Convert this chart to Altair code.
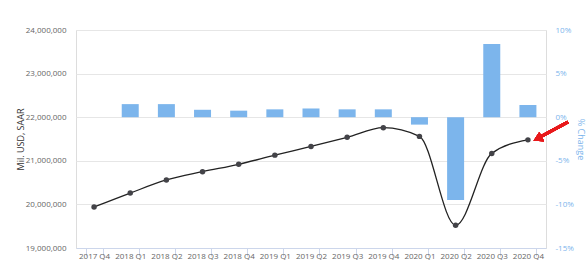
import altair as alt
import pandas as pd

quarters = ["2017 Q4", "2018 Q1", "2018 Q2", "2018 Q3", "2018 Q4", "2019 Q1", "2019 Q2",
            "2019 Q3", "2019 Q4", "2020 Q1", "2020 Q2", "2020 Q3", "2020 Q4"]
gdp = [19940000, 20260000, 20560000, 20750000, 20920000, 21130000, 21330000,
       21540000, 21760000, 21560000, 19520000, 21170000, 21480000]
pct_change = [None, 1.5, 1.5, 0.85, 0.75, 0.9, 1.0, 0.9, 0.9, -0.85, -9.5, 8.4, 1.4]

df = pd.DataFrame({"quarter": quarters, "gdp": gdp, "pct": pct_change})

FONT = "Open Sans"
BLUE = "#7cb5ec"

x = alt.X("quarter:N", sort=quarters, title=None,
          scale=alt.Scale(paddingInner=0.53, paddingOuter=0.265),
          axis=alt.Axis(labelAngle=0, labelFont=FONT, labelFontSize=8, labelColor="#666666",
                        tickBand="extent", tickSize=8, tickColor="#ccd6eb",
                        domainColor="#ccd6eb", labelPadding=-4, grid=False))

bars = alt.Chart(df).mark_bar(color=BLUE, size=17).encode(
    x=x,
    y=alt.Y("pct:Q", scale=alt.Scale(domain=[-15, 10], nice=False),
            axis=alt.Axis(orient="right", values=[-15, -10, -5, 0, 5, 10],
                          labelExpr="datum.value + '%'", grid=False, domain=False, ticks=False,
                          labelColor=BLUE, labelFont=FONT, labelFontSize=8, labelPadding=9,
                          title="% Change", titleColor=BLUE, titleFont=FONT, titleFontSize=9,
                          titleFontWeight="normal", titleAngle=90, titleX=34, titleY=109,
                          titleAlign="center", titleBaseline="middle")),
)

line_y = alt.Y("gdp:Q", scale=alt.Scale(domain=[19000000, 24000000], nice=False),
               axis=alt.Axis(orient="left", values=[19000000, 20000000, 21000000, 22000000,
                                                     23000000, 24000000],
                             format=",d", grid=True, gridColor="#e6e6e6", domain=False,
                             ticks=False, labelColor="#666666", labelFont=FONT,
                             labelFontSize=8, labelPadding=10,
                             title="Mil. USD, SAAR", titleColor="#333333", titleFont=FONT,
                             titleFontSize=9, titleFontWeight="normal", titleAngle=270,
                             titleX=-56, titleY=109, titleAlign="center",
                             titleBaseline="middle"))

line = alt.Chart(df).mark_line(color="#222222", strokeWidth=1.3, interpolate="monotone").encode(
    x=x, y=line_y)
points = alt.Chart(df).mark_point(filled=True, color="#434348", size=30, opacity=1).encode(
    x=x, y=line_y)

left = alt.layer(line, points)

arrow_line = alt.Chart(df).mark_rule(color="#e8191b", strokeWidth=3).encode(
    x=alt.value(492), y=alt.value(92), x2=alt.value(466), y2=alt.value(106))
arrow_head = alt.Chart(df).mark_point(shape="triangle", filled=True, color="#e8191b",
                                      size=110, angle=243, opacity=1).encode(
    x=alt.value(463), y=alt.value(108))

chart = alt.layer(bars, left, arrow_line, arrow_head).resolve_scale(y="independent").properties(
    width=470, height=218,
    autosize=alt.AutoSizeParams(type="none"),
    padding={"left": 76, "top": 30, "right": 40, "bottom": 28},
).configure_view(stroke=None).configure(background="white")

chart.save("out.html", embed_options={"renderer": "svg", "actions": False})
